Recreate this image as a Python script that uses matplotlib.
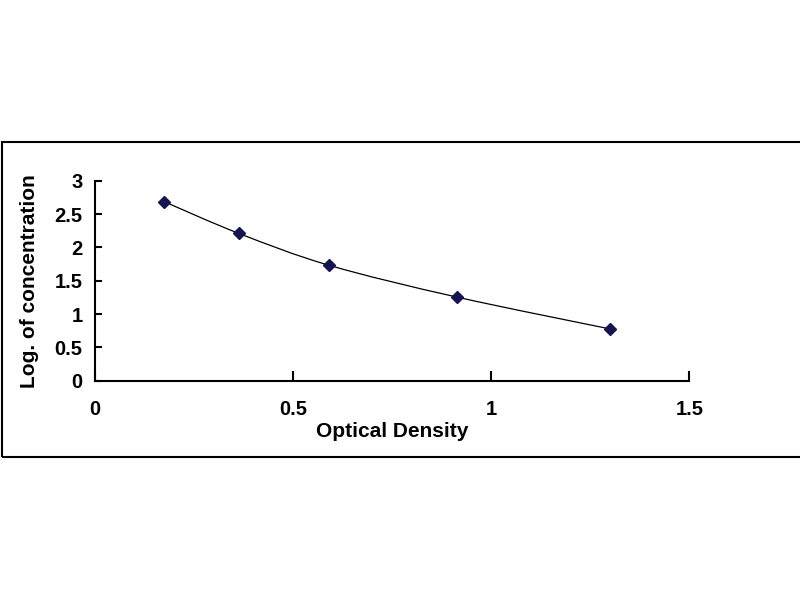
import matplotlib.pyplot as plt
from matplotlib.path import Path
from matplotlib.patches import PathPatch, Rectangle

plt.rcParams["font.family"] = ["Liberation Sans", "DejaVu Sans"]

# standard curve readings
od = [0.175, 0.363, 0.591, 0.913, 1.301]
log_conc = [2.685, 2.21, 1.731, 1.255, 0.775]
x_ticks = [0, 0.5, 1, 1.5]
y_ticks = [0, 0.5, 1, 1.5, 2, 2.5, 3]

fig = plt.figure(figsize=(8, 6), dpi=100)
ax = fig.add_axes([0.11875, 0.3655, 0.7429, 0.3333])

# smoothed line (Catmull-Rom as cubic Bezier, like Excel's smoothed scatter)
pts = list(zip(od, log_conc))
verts = [pts[0]]
codes = [Path.MOVETO]
n = len(pts)
for i in range(n - 1):
    p0 = pts[i - 1] if i > 0 else pts[i]
    p1 = pts[i]
    p2 = pts[i + 1]
    p3 = pts[i + 2] if i + 2 < n else pts[i + 1]
    c1 = (p1[0] + (p2[0] - p0[0]) / 6, p1[1] + (p2[1] - p0[1]) / 6)
    c2 = (p2[0] - (p3[0] - p1[0]) / 6, p2[1] - (p3[1] - p1[1]) / 6)
    verts += [c1, c2, p2]
    codes += [Path.CURVE4] * 3
ax.add_patch(PathPatch(Path(verts, codes), facecolor="none", edgecolor="black", lw=0.9))
ax.plot(od, log_conc, linestyle="none", marker="D", markersize=6,
        color="#141450", zorder=3)

ax.set_xlim(0, 1.5)
ax.set_ylim(0, 3)
ax.set_xticks(x_ticks)
ax.set_xticklabels(["0", "0.5", "1", "1.5"])
ax.set_yticks(y_ticks)
ax.set_yticklabels(["0", "0.5", "1", "1.5", "2", "2.5", "3"])
for s in ["top", "right"]:
    ax.spines[s].set_visible(False)
for s in ["left", "bottom"]:
    ax.spines[s].set_linewidth(1.5)
ax.tick_params(axis="y", direction="in", length=5, width=1.5, pad=9, labelsize=14.5)
ax.tick_params(axis="x", direction="in", length=7, width=1.5, pad=14, labelsize=14.5)
for lab in ax.get_xticklabels() + ax.get_yticklabels():
    lab.set_fontweight("bold")

ax.set_xlabel("Optical Density", fontsize=15, fontweight="bold", labelpad=2)
ax.set_ylabel("Log. of concentration", fontsize=15, fontweight="bold", labelpad=11)

# outer frame of the chart area
fig.add_artist(Rectangle((2 / 800, 143 / 600), 1.0, 315 / 600, transform=fig.transFigure,
                         fill=False, edgecolor="black", lw=1.5, clip_on=False))

fig.savefig("out.png", dpi=100)
